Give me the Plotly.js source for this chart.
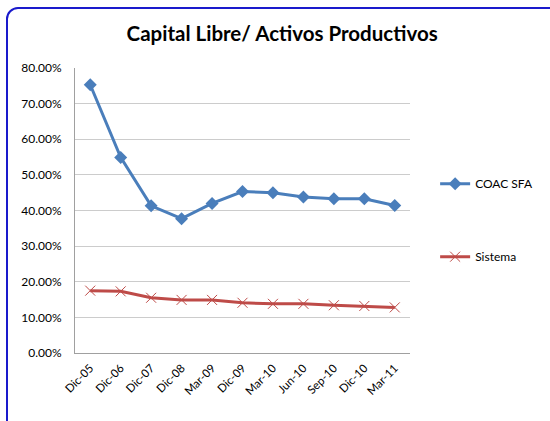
<!DOCTYPE html>
<html>
<head>
<meta charset="utf-8">
<script src="https://cdn.plot.ly/plotly-3.0.1.min.js"></script>
<style>
  html, body { margin: 0; padding: 0; background: #fff; overflow: hidden; }
  #frame { position: absolute; left: 6px; top: 7px; width: 600px; height: 470px;
           border: 2px solid #1a1acc; border-radius: 12px; box-sizing: border-box; }
  #chart { position: absolute; left: 0; top: 0; width: 550px; height: 421px; }
</style>
</head>
<body>
<div id="frame"></div>
<div id="chart"></div>
<script>
const categories = ["Dic-05","Dic-06","Dic-07","Dic-08","Mar-09","Dic-09","Mar-10","Jun-10","Sep-10","Dic-10","Mar-11"];
const coacSFA = [0.753, 0.549, 0.413, 0.377, 0.420, 0.453, 0.450, 0.438, 0.433, 0.433, 0.414];
const sistema = [0.175, 0.173, 0.155, 0.149, 0.149, 0.141, 0.138, 0.138, 0.134, 0.132, 0.128];
const yTicks = [0, 0.1, 0.2, 0.3, 0.4, 0.5, 0.6, 0.7, 0.8];

const traces = [
  { x: categories, y: coacSFA, name: "COAC SFA", type: "scatter", mode: "lines+markers",
    legendgroup: "a",
    line: { color: "#4a7ebb", width: 3 },
    marker: { symbol: "diamond", size: 10, color: "#4a7ebb" } },
  { x: categories, y: sistema, name: "Sistema", type: "scatter", mode: "lines+markers",
    legendgroup: "b",
    line: { color: "#be4b48", width: 3 },
    marker: { symbol: "x-thin-open", size: 10, color: "#be4b48", line: { color: "#be4b48", width: 1 } } }
];

const layout = {
  width: 550, height: 421,
  paper_bgcolor: "rgba(0,0,0,0)", plot_bgcolor: "#fff",
  margin: { l: 75, r: 133, t: 68, b: 68 },
  font: { family: "Lato, 'Open Sans', sans-serif", size: 11, color: "#000" },
  title: { text: "<b>Capital Libre/ Activos Productivos</b>", x: 0.513, xanchor: "center", y: 0.92, yanchor: "middle",
           font: { size: 20.5, family: "Lato, 'Open Sans', sans-serif", color: "#000" } },
  xaxis: { type: "category", range: [-0.5, 10.5], tickangle: -45, showgrid: false,
           showline: true, linecolor: "#a0a0a0", linewidth: 1, ticks: "", tickfont: { size: 11.5 },
           ticklabelstandoff: 3 },
  yaxis: { range: [0, 0.8], tickvals: yTicks, tickformat: ".2%", showgrid: true, gridcolor: "#cccccc",
           gridwidth: 1, showline: true, linecolor: "#a0a0a0", linewidth: 1, ticks: "", zeroline: false,
           tickfont: { size: 12 }, ticklabelstandoff: 10 },
  legend: { x: 1.075, xanchor: "left", y: 0.645, yanchor: "top", traceorder: "grouped", tracegroupgap: 54,
            font: { size: 12 }, bgcolor: "rgba(0,0,0,0)", itemwidth: 30 },
  showlegend: true
};

Plotly.newPlot("chart", traces, layout, { displayModeBar: false, staticPlot: true });
</script>
</body>
</html>
